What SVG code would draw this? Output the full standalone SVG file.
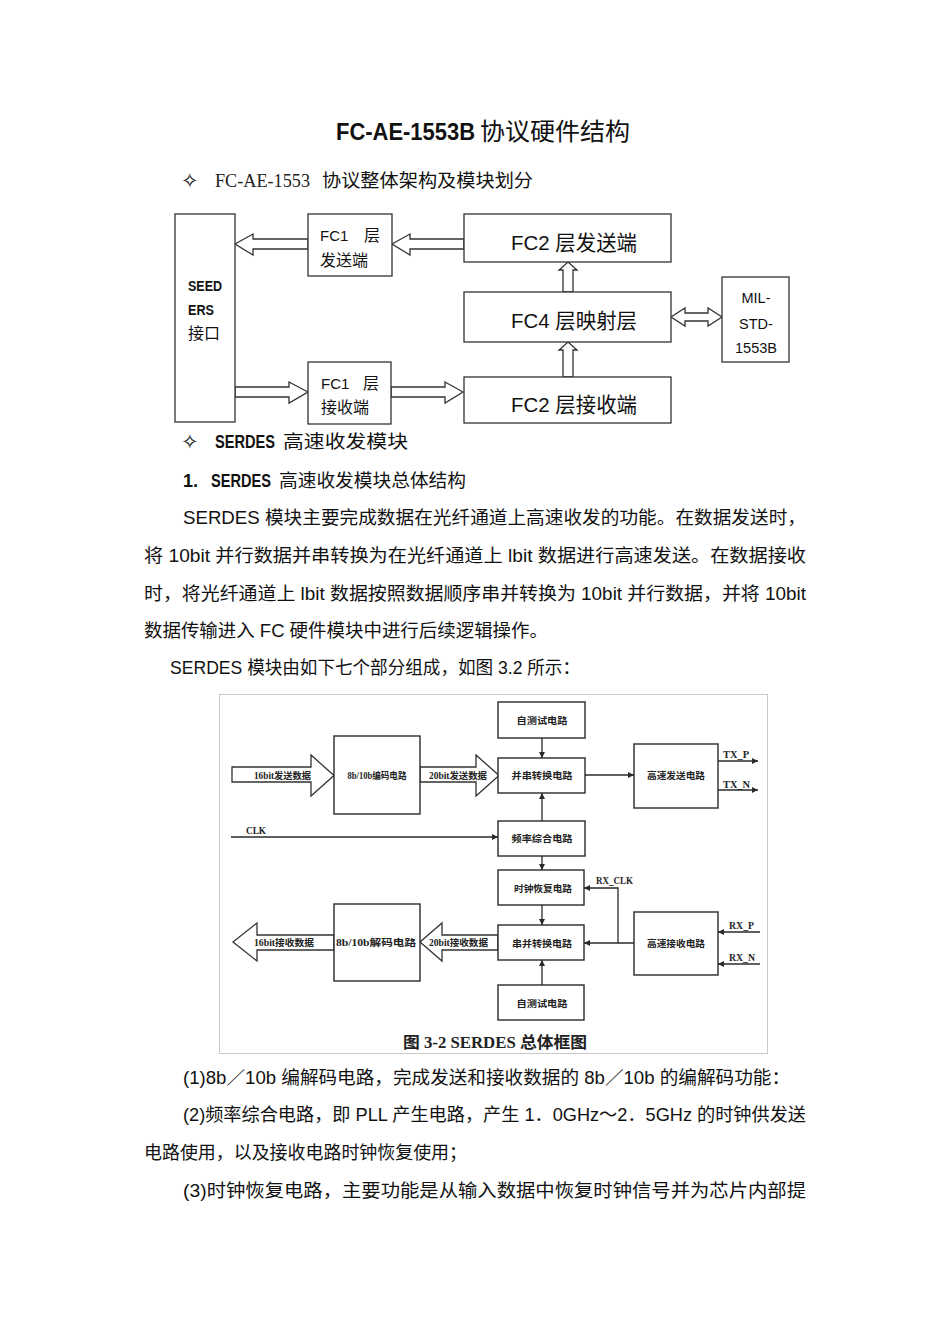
<svg xmlns="http://www.w3.org/2000/svg" width="950" height="1344" viewBox="0 0 950 1344">
<style>
.t{font-family:"Liberation Sans","Noto Sans CJK SC",sans-serif;fill:#111;}
.b{font-weight:bold;}
.sf{font-family:"Liberation Serif","Noto Sans CJK SC",serif;fill:#222;}
.dm{font-family:"DejaVu Sans",sans-serif;fill:#111;font-size:21px;}
.box{fill:#fff;stroke:#333;stroke-width:1.3;}
.hol{fill:#fff;stroke:#333;stroke-width:1.3;stroke-linejoin:miter;}
.fbox{fill:#fff;stroke:#2a2a2a;stroke-width:1.4;}
.fl{fill:none;stroke:#2a2a2a;stroke-width:1.3;}
.fs{font-family:"Liberation Serif","Noto Sans CJK SC",serif;font-size:9.5px;font-weight:bold;fill:#222;}
</style>
<defs>
<marker id="ah" viewBox="0 0 8 8" refX="8" refY="4" markerWidth="6" markerHeight="6" markerUnits="userSpaceOnUse" orient="auto">
<path d="M0,0 L8,4 L0,8 z" fill="#2a2a2a"/>
</marker>
</defs>
<rect width="950" height="1344" fill="#fff"/>

<!-- Title and text -->
<g id="title">
<text class="t b" x="336" y="140" font-size="24" textLength="139" lengthAdjust="spacingAndGlyphs">FC-AE-1553B</text>
<text class="t" x="480" y="140" font-size="24" textLength="150" lengthAdjust="spacingAndGlyphs">协议硬件结构</text>
</g>
<g id="heading1">
<text class="dm" x="181" y="188">✧</text>
<text class="sf" x="215" y="187" font-size="18" fill="#111" textLength="95" lengthAdjust="spacingAndGlyphs">FC-AE-1553</text>
<text class="t" x="322" y="187" font-size="18" textLength="211" lengthAdjust="spacingAndGlyphs">协议整体架构及模块划分</text>
</g>

<!-- Top architecture diagram -->
<g id="connectors-top">
<polygon class="hol" points="235,244 253,234 253,239 308,239 308,249 253,249 253,255"/>
<polygon class="hol" points="392,244 410,234 410,239 464,239 464,249 410,249 410,255"/>
<polygon class="hol" points="308,392 289,382 289,387 235,387 235,397 289,397 289,403"/>
<polygon class="hol" points="463,392 445,382 445,387 391,387 391,397 445,397 445,403"/>
<polygon class="hol" points="568,262 577,270 573,270 573,292 563,292 563,270 559,270"/>
<polygon class="hol" points="568,342 577,350 573,350 573,377 563,377 563,350 559,350"/>
<polygon class="hol" points="671,317 685,308 685,313 708,313 708,308 722,317 708,326 708,321 685,321 685,326"/>
</g>
<g id="seeders">
<rect class="box" x="175" y="214" width="60" height="208"/>
<text class="t b" x="188" y="291" font-size="14" textLength="34" lengthAdjust="spacingAndGlyphs">SEED</text>
<text class="t b" x="188" y="315" font-size="14" textLength="26" lengthAdjust="spacingAndGlyphs">ERS</text>
<text class="t" x="188" y="339" font-size="16">接口</text>
</g>
<g id="fc1-tx">
<rect class="box" x="308" y="214" width="84" height="62"/>
<text class="t" x="320" y="241" font-size="15">FC1</text>
<text class="t" x="364" y="241" font-size="16">层</text>
<text class="t" x="320" y="266" font-size="16">发送端</text>
</g>
<g id="fc1-rx">
<rect class="box" x="308" y="362" width="83" height="62"/>
<text class="t" x="321" y="389" font-size="15">FC1</text>
<text class="t" x="363" y="389" font-size="16">层</text>
<text class="t" x="321" y="413" font-size="16">接收端</text>
</g>
<g id="fc2-tx">
<rect class="box" x="464" y="214" width="207" height="48"/>
<text class="t" x="511" y="250" font-size="21" textLength="126" lengthAdjust="spacingAndGlyphs">FC2 层发送端</text>
</g>
<g id="fc4">
<rect class="box" x="464" y="292" width="207" height="50"/>
<text class="t" x="511" y="328" font-size="21" textLength="126" lengthAdjust="spacingAndGlyphs">FC4 层映射层</text>
</g>
<g id="fc2-rx">
<rect class="box" x="464" y="377" width="207" height="46"/>
<text class="t" x="511" y="412" font-size="21" textLength="126" lengthAdjust="spacingAndGlyphs">FC2 层接收端</text>
</g>
<g id="mil">
<rect class="box" x="722" y="277" width="67" height="85"/>
<text class="t" x="756" y="303" font-size="14.5" text-anchor="middle">MIL-</text>
<text class="t" x="756" y="329" font-size="14.5" text-anchor="middle">STD-</text>
<text class="t" x="756" y="353" font-size="14.5" text-anchor="middle">1553B</text>
</g>

<!-- Body text -->
<g id="body-text">
<text class="dm" x="181" y="449">✧</text>
<text class="t b" x="215" y="448" font-size="18" textLength="60" lengthAdjust="spacingAndGlyphs">SERDES</text>
<text class="t" x="283" y="448" font-size="18" textLength="125" lengthAdjust="spacingAndGlyphs">高速收发模块</text>
<text class="t b" x="183" y="487" font-size="18">1.</text>
<text class="t b" x="211" y="487" font-size="18" textLength="60" lengthAdjust="spacingAndGlyphs">SERDES</text>
<text class="t" x="279" y="487" font-size="18" textLength="187" lengthAdjust="spacingAndGlyphs">高速收发模块总体结构</text>
<text class="t" x="183" y="524" font-size="18" textLength="623" lengthAdjust="spacingAndGlyphs">SERDES  模块主要完成数据在光纤通道上高速收发的功能。在数据发送时，</text>
<text class="t" x="144" y="562" font-size="18" textLength="662" lengthAdjust="spacingAndGlyphs">将 10bit 并行数据并串转换为在光纤通道上 lbit 数据进行高速发送。在数据接收</text>
<text class="t" x="144" y="600" font-size="18" textLength="662" lengthAdjust="spacingAndGlyphs">时，将光纤通道上 lbit 数据按照数据顺序串并转换为 10bit 并行数据，并将 10bit</text>
<text class="t" x="144" y="637" font-size="18" textLength="404" lengthAdjust="spacingAndGlyphs">数据传输进入 FC 硬件模块中进行后续逻辑操作。</text>
<text class="t" x="170" y="674" font-size="18" textLength="410" lengthAdjust="spacingAndGlyphs">SERDES 模块由如下七个部分组成，如图 3.2 所示：</text>
</g>

<!-- SERDES figure -->
<rect x="219.5" y="694.5" width="548" height="359" fill="none" stroke="#c8c8c8" stroke-width="1"/>
<g id="connectors-serdes">
<polygon class="hol" points="232,767 311,767 311,755 334,775.5 311,796 311,782 232,782"/>
<polygon class="hol" points="420,767 476,767 476,755 499,775.5 476,796 476,782 420,782"/>
<polygon class="hol" points="233,942 257,923 257,935 334,935 334,950 257,950 257,961"/>
<polygon class="hol" points="420,942 442,923 442,935 498,935 498,950 442,950 442,961"/>
<line class="fl" x1="542" y1="738" x2="542" y2="758" marker-end="url(#ah)"/>
<line class="fl" x1="542" y1="821" x2="542" y2="793" marker-end="url(#ah)"/>
<line class="fl" x1="542" y1="856" x2="542" y2="870" marker-end="url(#ah)"/>
<line class="fl" x1="585" y1="775" x2="634" y2="775" marker-end="url(#ah)"/>
<line class="fl" x1="718" y1="761" x2="758" y2="761" marker-end="url(#ah)"/>
<line class="fl" x1="718" y1="790" x2="758" y2="790" marker-end="url(#ah)"/>
<line class="fl" x1="231" y1="837" x2="498" y2="837" marker-end="url(#ah)"/>
<line class="fl" x1="542" y1="905" x2="542" y2="925" marker-end="url(#ah)"/>
<line class="fl" x1="542" y1="985" x2="542" y2="960" marker-end="url(#ah)"/>
<line class="fl" x1="634" y1="943" x2="584" y2="943" marker-end="url(#ah)"/>
<polyline class="fl" points="618,943 618,888 584,888" marker-end="url(#ah)"/>
<line class="fl" x1="760" y1="932" x2="718" y2="932" marker-end="url(#ah)"/>
<line class="fl" x1="760" y1="964" x2="718" y2="964" marker-end="url(#ah)"/>
<text class="fs" x="254" y="779" textLength="57" lengthAdjust="spacingAndGlyphs">16bit发送数据</text>
<text class="fs" x="429" y="779" textLength="58" lengthAdjust="spacingAndGlyphs">20bit发送数据</text>
<text class="fs" x="254" y="946" textLength="60" lengthAdjust="spacingAndGlyphs">16bit接收数据</text>
<text class="fs" x="429" y="946" textLength="59" lengthAdjust="spacingAndGlyphs">20bit接收数据</text>
<text class="fs" x="246" y="834" font-size="10" textLength="20" lengthAdjust="spacingAndGlyphs">CLK</text>
<text class="fs" x="723" y="758" font-size="10" textLength="26" lengthAdjust="spacingAndGlyphs">TX_P</text>
<text class="fs" x="723" y="788" font-size="10" textLength="27" lengthAdjust="spacingAndGlyphs">TX_N</text>
<text class="fs" x="596" y="884" font-size="10" textLength="37" lengthAdjust="spacingAndGlyphs">RX_CLK</text>
<text class="fs" x="729" y="929" font-size="10" textLength="25" lengthAdjust="spacingAndGlyphs">RX_P</text>
<text class="fs" x="729" y="961" font-size="10" textLength="26" lengthAdjust="spacingAndGlyphs">RX_N</text>
</g>
<g id="encoder">
<rect class="fbox" x="334" y="736" width="86" height="78"/>
<text class="fs" x="377" y="779" text-anchor="middle" textLength="59" lengthAdjust="spacingAndGlyphs">8b/10b编码电路</text>
</g>
<g id="decoder">
<rect class="fbox" x="334" y="904" width="86" height="77"/>
<text class="fs" x="376" y="946" text-anchor="middle" textLength="80" lengthAdjust="spacingAndGlyphs">8b/10b解码电路</text>
</g>
<g id="selftest-top">
<rect class="fbox" x="498" y="702" width="87" height="36"/>
<text class="fs" x="542" y="724" text-anchor="middle" textLength="51" lengthAdjust="spacingAndGlyphs">自测试电路</text>
</g>
<g id="par2ser">
<rect class="fbox" x="498" y="758" width="87" height="35"/>
<text class="fs" x="542" y="779" text-anchor="middle" textLength="61" lengthAdjust="spacingAndGlyphs">并串转换电路</text>
</g>
<g id="freq-synth">
<rect class="fbox" x="498" y="821" width="87" height="35"/>
<text class="fs" x="542" y="842" text-anchor="middle" textLength="61" lengthAdjust="spacingAndGlyphs">频率综合电路</text>
</g>
<g id="clk-recovery">
<rect class="fbox" x="498" y="870" width="86" height="35"/>
<text class="fs" x="543" y="892" text-anchor="middle" textLength="58" lengthAdjust="spacingAndGlyphs">时钟恢复电路</text>
</g>
<g id="ser2par">
<rect class="fbox" x="498" y="925" width="86" height="35"/>
<text class="fs" x="542" y="947" text-anchor="middle" textLength="60" lengthAdjust="spacingAndGlyphs">串并转换电路</text>
</g>
<g id="selftest-bottom">
<rect class="fbox" x="498" y="985" width="86" height="35"/>
<text class="fs" x="542" y="1007" text-anchor="middle" textLength="51" lengthAdjust="spacingAndGlyphs">自测试电路</text>
</g>
<g id="hs-tx">
<rect class="fbox" x="634" y="744" width="84" height="64"/>
<text class="fs" x="676" y="779" text-anchor="middle" textLength="58" lengthAdjust="spacingAndGlyphs">高速发送电路</text>
</g>
<g id="hs-rx">
<rect class="fbox" x="634" y="912" width="84" height="63"/>
<text class="fs" x="676" y="947" text-anchor="middle" textLength="58" lengthAdjust="spacingAndGlyphs">高速接收电路</text>
</g>
<text class="sf b" x="403" y="1048" font-size="16" fill="#222" textLength="184" lengthAdjust="spacingAndGlyphs">图 3-2 SERDES 总体框图</text>

<!-- Bottom text -->
<g id="bottom-text">
<text class="t" x="183" y="1084" font-size="18" textLength="607" lengthAdjust="spacingAndGlyphs">(1)8b／10b 编解码电路，完成发送和接收数据的 8b／10b 的编解码功能：</text>
<text class="t" x="183" y="1121" font-size="18" textLength="623" lengthAdjust="spacingAndGlyphs">(2)频率综合电路，即 PLL 产生电路，产生 1．0GHz～2．5GHz 的时钟供发送</text>
<text class="t" x="144" y="1159" font-size="18" textLength="323" lengthAdjust="spacingAndGlyphs">电路使用，以及接收电路时钟恢复使用；</text>
<text class="t" x="183" y="1197" font-size="18" textLength="623" lengthAdjust="spacingAndGlyphs">(3)时钟恢复电路，主要功能是从输入数据中恢复时钟信号并为芯片内部提</text>
</g>
</svg>
